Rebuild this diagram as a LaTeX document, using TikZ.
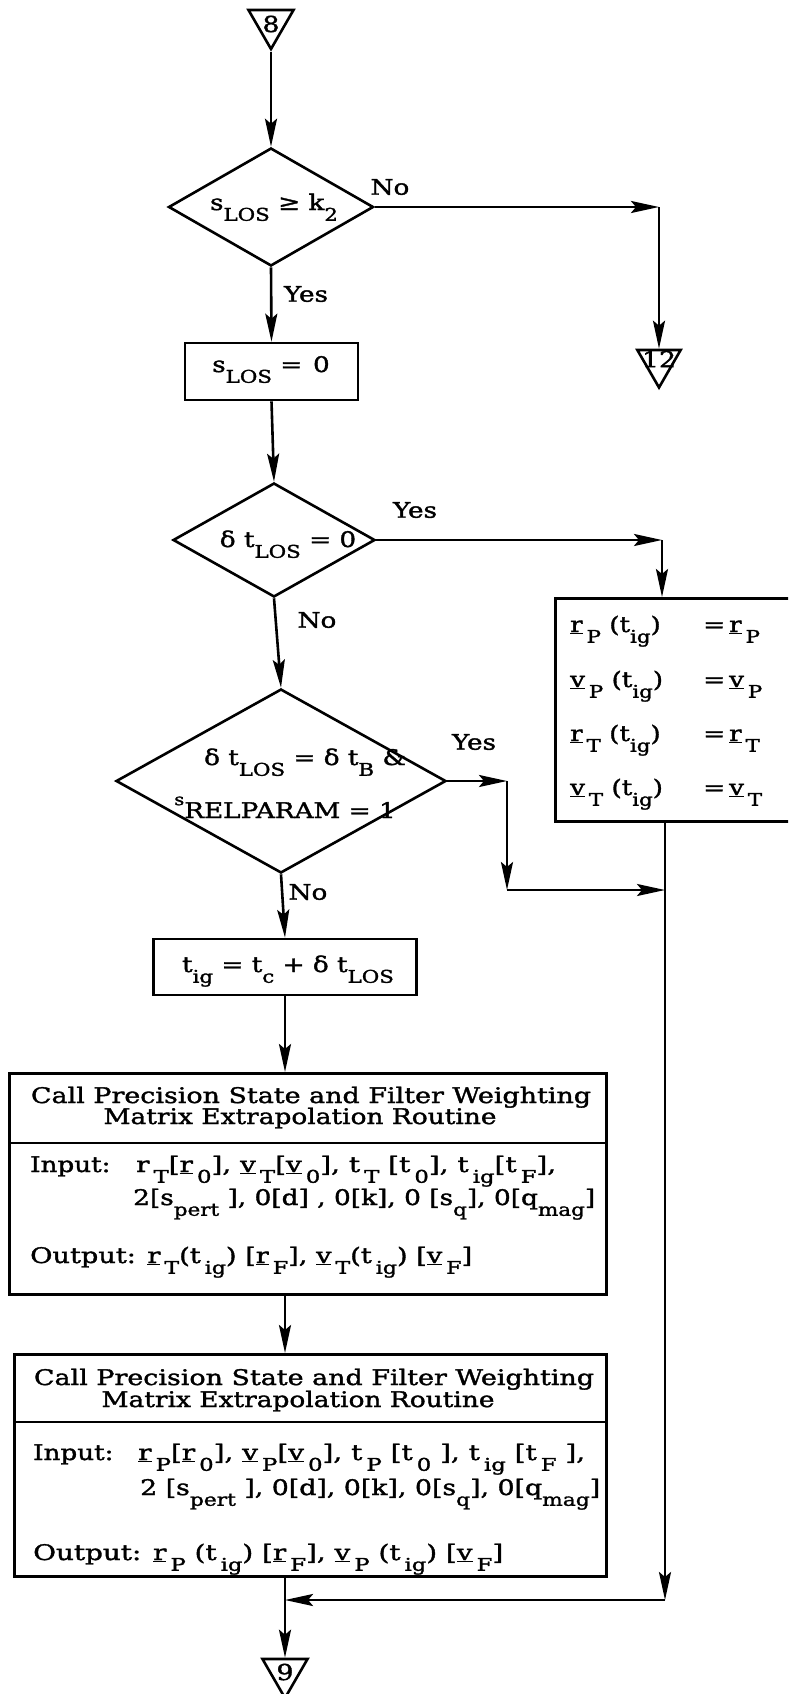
\documentclass[tikz,border=0pt]{standalone}
\usepackage{fontspec}
\usepackage{graphicx}
\setmainfont{DejaVu Serif}[FakeStretch=1.22,UprightFeatures={FakeBold=1.6}]
\usetikzlibrary{shapes.geometric,arrows.meta,calc}
\newcommand\lw[1]{\raisebox{-0.5em}{\fontsize{17.5}{18}\selectfont #1}}
\newcommand\lk[1]{\kern0.18em\raisebox{-0.5em}{\fontsize{17.5}{18}\selectfont #1}}
\newcommand\ub[1]{\underline{#1}}
\newcommand\rrow[2]{\makebox[133pt][l]{#1}\makebox[26pt][l]{=}#2}
\newcommand\fitw[2]{\resizebox{#1}{\height}{#2}}
\begin{document}
\begin{tikzpicture}[x=1pt,y=-1pt,
  arr/.style={line width=2.6pt,-{Stealth[length=28pt,width=12pt,inset=5pt]}},
  box/.style={draw,line width=2.6pt,rectangle,inner sep=0pt},
  dia/.style={draw,line width=2.6pt,diamond,inner sep=0pt},
  tri/.style={draw,line width=2.6pt,regular polygon,regular polygon sides=3,shape border rotate=180,inner sep=0pt},
  txt/.style={inner sep=0pt,anchor=base west,font=\fontsize{21.5}{22}\selectfont},
  ctxt/.style={inner sep=0pt,anchor=base,font=\fontsize{21.5}{22}\selectfont},
  lbl/.style={inner sep=0pt,font=\fontsize{21.5}{22}\selectfont},
  num/.style={inner sep=0pt,font=\fontsize{22}{22}\selectfont},
]
\useasboundingbox (0,0) rectangle (788,1694);
\clip (0,0) rectangle (788,1694);

\node[tri,minimum size=52pt] (t8) at (271,23) {};
\node[num] (t8n) at (271,24) {8};
\node[dia,minimum width=205pt,minimum height=118pt] (d1) at (271,207) {};
\node[ctxt] (d1t) at (274,210) {s\lw{LOS} ≥ k\lw{2}};
\node[tri,minimum size=50pt] (t12) at (659,362.5) {};
\node[num] (t12n) at (659,359) {12};
\node[box,minimum width=173pt,minimum height=57pt] (b1) at (271.5,371.5) {};
\node[ctxt] (b1t) at (271,372) {s\lw{LOS} =\enspace 0};
\node[dia,minimum width=202pt,minimum height=114pt] (d2) at (274,540) {};
\node[ctxt] (d2t) at (288,547) {δ t\lw{LOS} = 0};
\node[dia,minimum width=330pt,minimum height=184pt] (d3) at (281,781) {};
\node[ctxt] (d3t1) at (305,765) {δ t\lw{LOS} = δ t\lw{B} \&};
\node[ctxt] (d3t2) at (285,818) {\raisebox{0.6em}{\fontsize{16}{16}\selectfont s}RELPARAM = 1};
\node[box,minimum width=263pt,minimum height=56pt] (tig) at (285,967) {};
\node[ctxt] (tigt) at (288,972) {t\lw{ig} = t\lw{c} + δ t\lw{LOS}};

% right box
\node[box,anchor=north west,minimum width=270pt,minimum height=223pt] (rb) at (554,597) {};
\node[txt] (rb1) at (570,632) {\rrow{\ub{r}\lk{P} (t\lw{ig})}{\ub{r}\lk{P}}};
\node[txt] (rb2) at (570,687) {\rrow{\ub{v}\lk{P} (t\lw{ig})}{\ub{v}\lk{P}}};
\node[txt] (rb3) at (570,741) {\rrow{\ub{r}\lk{T} (t\lw{ig})}{\ub{r}\lk{T}}};
\node[txt] (rb4) at (570,795) {\rrow{\ub{v}\lk{T} (t\lw{ig})}{\ub{v}\lk{T}}};

% call box 1
\node[box,anchor=north west,minimum width=597pt,minimum height=221pt] (cb1) at (8,1072) {};
\draw[line width=2.6pt] ($(cb1.north west)+(0,71)$) coordinate (cb1l) -- (cb1l -| cb1.east);
\node[ctxt] (cb1h1) at (311,1103) {\fitw{560pt}{Call Precision State and Filter Weighting}};
\node[ctxt] (cb1h2) at (300,1124) {\fitw{393pt}{Matrix Extrapolation Routine}};
\node[txt] (cb1in) at (30,1172) {Input:};
\node[txt] (cb1r1) at (136,1172) {\fitw{420pt}{r\lk{T}[\ub{r}\lk{0}], \ub{v}\lk{T}[\ub{v}\lk{0}], t\lk{T} [t\lk{0}], t\lk{ig}[t\lk{F}],}};
\node[txt] (cb1r2) at (133,1205) {\fitw{462pt}{2[s\lw{pert} ], 0[d] , 0[k], 0 [s\lw{q}], 0[q\lw{mag}]}};
\node[txt] (cb1out) at (30,1263) {\fitw{442pt}{Output: \ub{r}\lk{T}(t\lk{ig}) [\ub{r}\lk{F}], \ub{v}\lk{T}(t\lk{ig}) [\ub{v}\lk{F}]}};

% call box 2
\node[box,anchor=north west,minimum width=592pt,minimum height=222pt] (cb2) at (13,1353) {};
\draw[line width=2.6pt] ($(cb2.north west)+(0,69)$) coordinate (cb2l) -- (cb2l -| cb2.east);
\node[ctxt] (cb2h1) at (314,1385) {\fitw{560pt}{Call Precision State and Filter Weighting}};
\node[ctxt] (cb2h2) at (298,1407) {\fitw{393pt}{Matrix Extrapolation Routine}};
\node[txt] (cb2in) at (33,1460) {Input:};
\node[txt] (cb2r1) at (138,1460) {\fitw{447pt}{\ub{r}\lk{P}[\ub{r}\lk{0}], \ub{v}\lk{P}[\ub{v}\lk{0}], t\lk{P} [t\lk{0} ], t\lk{ig} [t\lk{F} ],}};
\node[txt] (cb2r2) at (140,1495) {\fitw{460pt}{2 [s\lw{pert} ], 0[d], 0[k], 0[s\lw{q}], 0[q\lw{mag}]}};
\node[txt] (cb2out) at (33,1560) {\fitw{470pt}{Output: \ub{r}\lk{P} (t\lk{ig}) [\ub{r}\lk{F}], \ub{v}\lk{P} (t\lk{ig}) [\ub{v}\lk{F}]}};

\node[tri,minimum size=52pt] (t9) at (285,1672) {};
\node[num] (t9n) at (285,1672) {9};

% labels
\node[lbl] (l1) at (390,187) {No};
\node[lbl] (l2) at (306,294) {Yes};
\node[lbl] (l3) at (415,510) {Yes};
\node[lbl] (l4) at (317,620) {No};
\node[lbl] (l5) at (474,742) {Yes};
\node[lbl] (l6) at (308,892) {No};

% corner coordinates
\coordinate (c1) at (659,207);
\coordinate (c2) at (662,540);
\coordinate (c3) at (507,781);
\coordinate (c4) at (507,890);
\coordinate (c5) at (665,890);
\coordinate (c6) at (665,1600);
\coordinate (c7) at (tig.south |- c6);

% connectors
\draw[arr] (t8.south) -- (d1.north);
\draw[arr] (d1.east) -- (c1);
\draw[arr] (c1) -- (t12.north);
\draw[arr] (d1.south) -- (b1.north);
\draw[arr] (b1.south) -- (d2.north);
\draw[arr] (d2.east) -- (c2);
\draw[arr] (c2) -- (c2 |- rb.north);
\draw[arr] (d2.south) -- (d3.north);
\draw[arr] (d3.east) -- (c3);
\draw[arr] (c3) -- (c4);
\draw[arr] (c4) -- (c5);
\draw[arr] (d3.south) -- (tig.north);
\draw[arr] (tig.south) -- (tig.south |- cb1.north);
\draw[arr] (tig.south |- cb1.south) -- (tig.south |- cb2.north);
\draw[arr] (rb.south -| c6) -- (c6);
\draw[arr] (c6) -- (c7);
\draw[arr] (tig.south |- cb2.south) -- (t9.north);
\end{tikzpicture}
\end{document}
